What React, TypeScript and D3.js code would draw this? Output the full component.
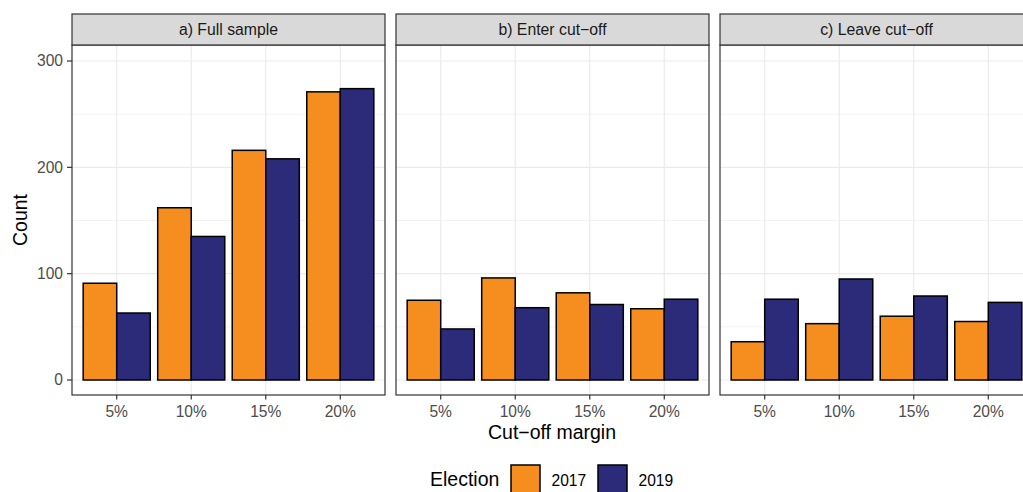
import React from "react";
import * as d3 from "d3";

const panels = ["a) Full sample", "b) Enter cut\u2212off", "c) Leave cut\u2212off"];
const margins = ["5%", "10%", "15%", "20%"];
const elections = ["2017", "2019"];
const fullSample2017 = [91, 162, 216, 271];
const fullSample2019 = [63, 135, 208, 274];
const enter2017 = [75, 96, 82, 67];
const enter2019 = [48, 68, 71, 76];
const leave2017 = [36, 53, 60, 55];
const leave2019 = [76, 95, 79, 73];
const yTicks = [0, 100, 200, 300];
const yMinor = [50, 150, 250];
const colors = ["#F68D1F", "#2B2B7A"];
const xTitle = "Cut\u2212off margin";

const panelValues = [
  [fullSample2017, fullSample2019],
  [enter2017, enter2019],
  [leave2017, leave2019],
];

const FONT = "'Liberation Sans', Arial, Helvetica, sans-serif";

export default function App() {
  const W = 1023;
  const H = 492;
  const panelLefts = [72, 396, 720];
  const panelW = 313;
  const stripTop = 14;
  const panelTop = 45;
  const panelBottom = 395;

  const y = d3.scaleLinear().domain([-14.1, 315.05]).range([panelBottom, panelTop]);

  return (
    <svg
      width={W}
      height={H}
      style={{ position: "absolute", left: 0, top: 0, background: "#fff" }}
      fontFamily={FONT}
    >
      <rect x={0} y={0} width={W} height={H} fill="#fff" />
      {panels.map((name, pi) => {
        const x0 = panelLefts[pi];
        const x = d3.scalePoint<string>().domain(margins).range([x0, x0 + panelW]).padding(0.6);
        const step = x.step();
        const bw = step * 0.45;
        const vals = panelValues[pi];
        return (
          <g key={name}>
            <rect x={x0} y={panelTop} width={panelW} height={panelBottom - panelTop} fill="#fff" />
            {yMinor.map((t) => (
              <line key={"m" + t} x1={x0} x2={x0 + panelW} y1={y(t)} y2={y(t)} stroke="#ebebeb" strokeWidth={0.6} />
            ))}
            {yTicks.map((t) => (
              <line key={"M" + t} x1={x0} x2={x0 + panelW} y1={y(t)} y2={y(t)} stroke="#ebebeb" strokeWidth={1.2} />
            ))}
            {margins.map((m) => (
              <line key={"v" + m} x1={x(m)!} x2={x(m)!} y1={panelTop} y2={panelBottom} stroke="#ebebeb" strokeWidth={1.2} />
            ))}
            {margins.map((m, ci) =>
              elections.map((e, ei) => {
                const v = vals[ei][ci];
                const bx = x(m)! - bw + ei * bw;
                return (
                  <rect
                    key={m + e}
                    x={bx}
                    y={y(v)}
                    width={bw}
                    height={y(0) - y(v)}
                    fill={colors[ei]}
                    stroke="#000"
                    strokeWidth={1.5}
                  />
                );
              })
            )}
            <rect x={x0} y={panelTop} width={panelW} height={panelBottom - panelTop} fill="none" stroke="#333333" strokeWidth={1.2} />
            <rect x={x0} y={stripTop} width={panelW} height={panelTop - stripTop} fill="#d9d9d9" stroke="#333333" strokeWidth={1.2} />
            <text x={x0 + panelW / 2} y={(stripTop + panelTop) / 2} dy="0.35em" textAnchor="middle" fontSize={15.8} fill="#1a1a1a">
              {name}
            </text>
            {margins.map((m) => (
              <g key={"xt" + m}>
                <line x1={x(m)!} x2={x(m)!} y1={panelBottom} y2={panelBottom + 4.5} stroke="#333333" strokeWidth={1.2} />
                <text x={x(m)!} y={panelBottom + 16.5} dy="0.35em" textAnchor="middle" fontSize={15.6} fill="#4d4d4d">
                  {m}
                </text>
              </g>
            ))}
          </g>
        );
      })}
      {yTicks.map((t) => (
        <g key={"yt" + t}>
          <line x1={67} x2={72} y1={y(t)} y2={y(t)} stroke="#333333" strokeWidth={1.2} />
          <text x={63} y={y(t)} dy="0.35em" textAnchor="end" fontSize={15.6} fill="#4d4d4d">
            {t}
          </text>
        </g>
      ))}
      <text
        transform={`translate(20, ${(panelTop + panelBottom) / 2}) rotate(-90)`}
        textAnchor="middle"
        dy="0.35em"
        fontSize={19.5}
        fill="#000"
      >
        Count
      </text>
      <text x={552} y={432} dy="0.35em" textAnchor="middle" fontSize={19.5} fill="#000">
        {xTitle}
      </text>
      <text x={430} y={486} fontSize={19.5} fill="#000">
        Election
      </text>
      {elections.map((e, i) => {
        const kx = [511, 598][i];
        return (
          <g key={"lg" + e}>
            <rect x={kx} y={465} width={29} height={29} fill={colors[i]} stroke="#000" strokeWidth={1.5} />
            <text x={kx + 40.5} y={486} fontSize={15.6} fill="#000">
              {e}
            </text>
          </g>
        );
      })}
    </svg>
  );
}
